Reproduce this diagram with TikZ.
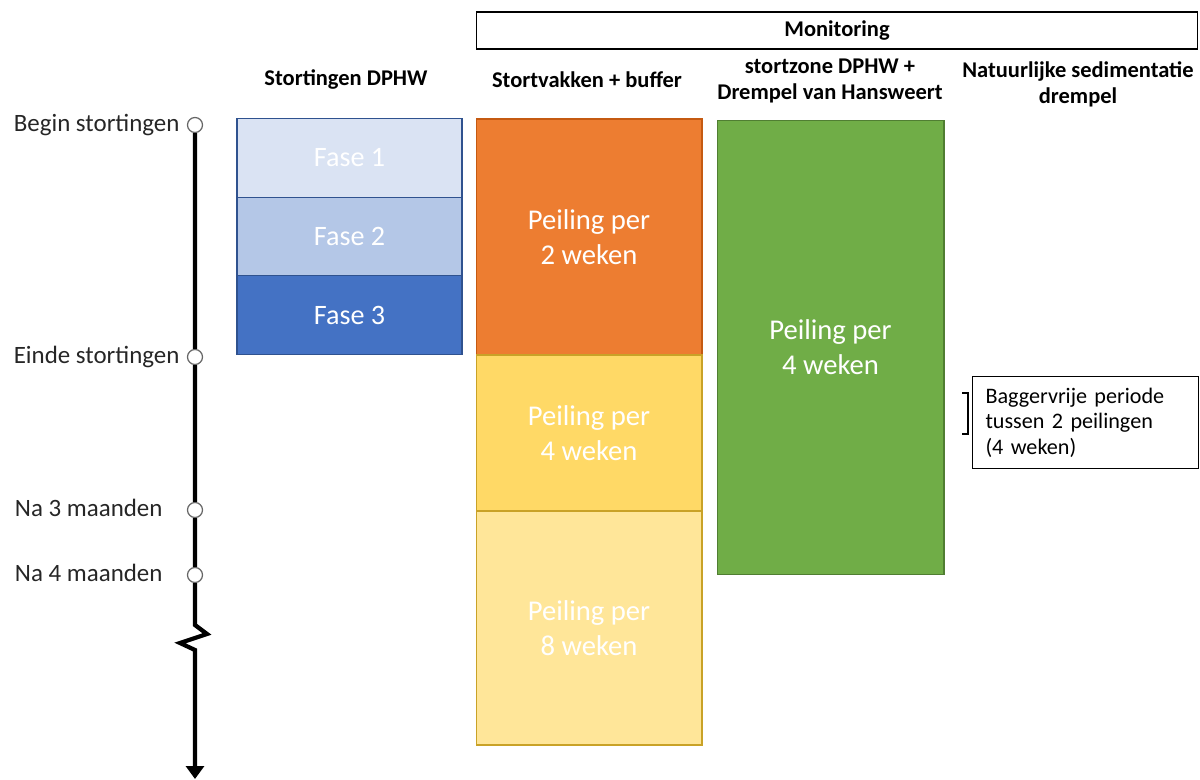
\documentclass[tikz,border=0pt]{standalone}
\usepackage{fontspec}
\setmainfont{Carlito}
\usepackage{tikz}
\usetikzlibrary{arrows.meta}

\definecolor{fasea}{HTML}{DAE3F3}
\definecolor{faseb}{HTML}{B4C7E7}
\definecolor{fasec}{HTML}{4472C4}
\definecolor{faserand}{HTML}{2F528F}
\definecolor{oranje}{HTML}{ED7D31}
\definecolor{oranjerand}{HTML}{C55A11}
\definecolor{geel}{HTML}{FFD966}
\definecolor{lichtgeel}{HTML}{FFE699}
\definecolor{geelrand}{HTML}{C9A227}
\definecolor{groen}{HTML}{70AD47}
\definecolor{groenrand}{HTML}{507E32}

\tikzstyle{fase} = [rectangle, 
draw=faserand, line width=0.6pt,
minimum width=4.5cm, 
minimum height=1.57cm,
text=white, 
font=\fontsize{16}{19}\selectfont]
\tikzstyle{peiling} = [rectangle, 
line width=0.6pt,
minimum width=4.52cm, 
text=white, align=center,
font=\fontsize{16.3}{20}\selectfont]
\tikzstyle{kop} = [align=center, 
font=\bfseries\fontsize{12.8}{14.8}\selectfont]
\tikzstyle{moment} = [circle, draw=black!60, fill=white, line width=0.7pt,
inner sep=0pt, minimum size=0.3cm]
\tikzstyle{tijd} = [left, inner sep=1pt, xshift=-3pt, text=black!85, font=\fontsize{14.2}{17}\selectfont]
\tikzstyle{tijdlijn} = [line width=2.4pt, -{Triangle[length=0.26cm,width=0.36cm]}]

\begin{document}
\begin{tikzpicture}[x=0.02cm, y=-0.02cm]
        \useasboundingbox (0,0) rectangle (1200,780);

        % kopjes
        \node (monitoring) [draw, line width=0.6pt, minimum width=14.44cm, minimum height=0.74cm, kop] at (837,30.5) {Monitoring};
        \node (kopfase) [kop] at (346,80) {Stortingen DPHW};
        \node (kopvak) [kop] at (587,80) {Stortvakken + buffer};
        \node (kopzone) [kop] at (830,81) {stortzone DPHW +\\Drempel van Hansweert};
        \node (kopnat) [kop] at (1078,84) {Natuurlijke sedimentatie\\drempel};

        % fasen van de stortingen
        \node (fase1) [fase, fill=fasea] at (349.5,158) {Fase 1};
        \node (fase2) [fase, fill=faseb] at (349.5,236.5) {Fase 2};
        \node (fase3) [fase, fill=fasec] at (349.5,315) {Fase 3};

        % peilingen stortvakken
        \node (vak2w) [peiling, draw=oranjerand, fill=oranje, minimum height=4.72cm] at (589,237) {Peiling per\\2 weken};
        \node (vak4w) [peiling, draw=geelrand, fill=geel, minimum height=3.12cm] at (589,433) {Peiling per\\4 weken};
        \node (vak8w) [peiling, draw=geelrand, fill=lichtgeel, minimum height=4.68cm] at (589,628) {Peiling per\\8 weken};

        % peilingen stortzone
        \node (zone4w) [peiling, draw=groenrand, fill=groen, minimum width=4.54cm, minimum height=9.1cm] at (830.5,347.5) {Peiling per\\4 weken};

        % tijdlijn
        \node (begin) [moment] at (195,125) {};
        \node (einde) [moment] at (195,357) {};
        \node (maand3) [moment] at (195,510) {};
        \node (maand4) [moment] at (195,575) {};
        \coordinate (knik1) at (195,625);
        \coordinate (knik2) at (207,634);
        \coordinate (knik3) at (180,643);
        \coordinate (knik4) at (195,650);
        \coordinate (eind) at (195,779);

        \draw [tijdlijn] (begin) -- (einde) -- (maand3) -- (maand4) -- (knik1) -- (knik2) -- (knik3) -- (knik4) -- (eind);

        \node (lbegin) [tijd] at (begin.west) {Begin stortingen};
        \node (leinde) [tijd] at (einde.west) {Einde stortingen};
        \node (lmaand3) [tijd, xshift=-0.34cm, yshift=1pt] at (maand3.west) {Na 3 maanden};
        \node (lmaand4) [tijd, xshift=-0.34cm, yshift=1pt] at (maand4.west) {Na 4 maanden};

        % baggervrije periode
        \draw [line width=1pt] (962,393) -- (968,393) -- (968,434) -- (962,434);
        \node (notitie) [draw, line width=0.6pt, anchor=north west, minimum width=4.52cm, minimum height=1.84cm,
        inner xsep=0.26cm, text width=4.0cm, align=left, font=\fontsize{12.6}{14.5}\selectfont] at (972,376) {Baggervrije periode\\tussen 2 peilingen\\(4 weken)};

        \end{tikzpicture}
\end{document}
